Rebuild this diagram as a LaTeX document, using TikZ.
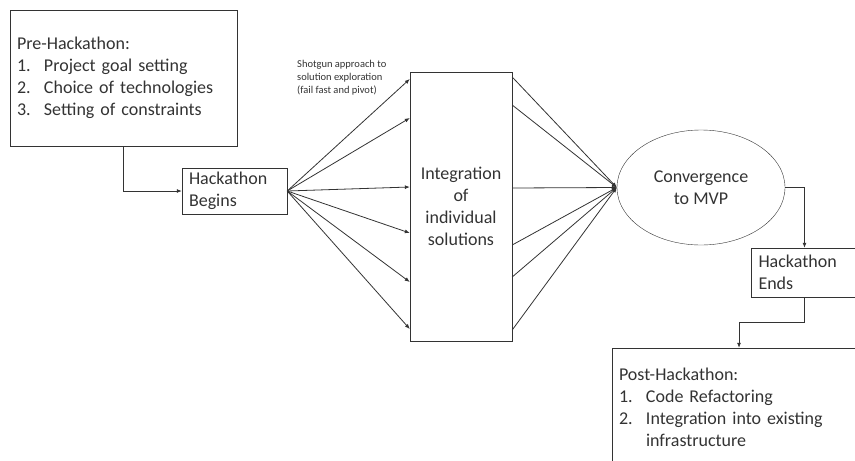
\documentclass[tikz,border=0pt]{standalone}
\usepackage{fontspec}
\setmainfont{Carlito}
\usetikzlibrary{arrows.meta,shapes.geometric}
\definecolor{ink}{HTML}{333333}
\tikzstyle{place}=[draw=ink, text=ink, inner xsep=7pt, inner ysep=0pt,
  font=\fontsize{18}{22}\selectfont]
\tikzstyle{flow}=[draw=ink, line width=0.8pt, -{Latex[length=5pt,width=4pt]}]
\newcommand{\itm}[1]{\makebox[27pt][l]{#1}}

\begin{document}
\begin{tikzpicture}[x=1pt,y=-1pt]
\useasboundingbox (0,0) rectangle (855,461);
\clip (0,0) rectangle (855,461);
\draw(123.5,78) node[place, minimum height=136pt, text width=213pt, align=left](pre)
  {Pre-Hackathon:\\ \itm{1.}Project goal setting\\ \itm{2.}Choice of technologies\\
   \itm{3.}Setting of constraints};
\draw(234.5,191) node[place, minimum height=46pt, text width=91pt, align=left](begins)
  {Hackathon\\ Begins};
\draw (pre.south) |- (begins.west) [flow];
%
\draw(461,206.5) node[place, minimum height=269pt, minimum width=102pt, inner xsep=0pt,
  align=center](integ){Integration\\ of\\ individual\\ solutions};
\draw(297,60) node[anchor=north west, inner sep=0pt, text=ink, align=left,
  font=\fontsize{10.5}{13}\selectfont](shotgun)
  {Shotgun approach to\\ solution exploration\\ (fail fast and pivot)};
\foreach \y in {79,118,187,233,282,329}
  \draw[flow] (begins.east) -- (integ.west |- 0,\y);
%
\draw(701,187.5) node[place, ellipse, minimum width=168pt, minimum height=115pt,
  inner xsep=0pt, align=center](mvp){Convergence\\ to MVP};
\foreach \y in {77,105,188,245,277,330}
  \draw[flow] (integ.east |- 0,\y) -- (mvp.west);
%
\draw(804.5,272.5) node[place, minimum height=49pt, text width=92pt, align=left](ends)
  {Hackathon\\ Ends};
\draw[flow] (mvp.east) -| (ends.north);
%
\draw(739,407) node[place, minimum height=118pt, text width=240pt, align=left](post)
  {Post-Hackathon:\\ \itm{1.}Code Refactoring\\ \itm{2.}Integration into existing\\
   \itm{}infrastructure};
\draw[flow] (ends.south) -- ++(0,25) -| (post.north);
\end{tikzpicture}
\end{document}
